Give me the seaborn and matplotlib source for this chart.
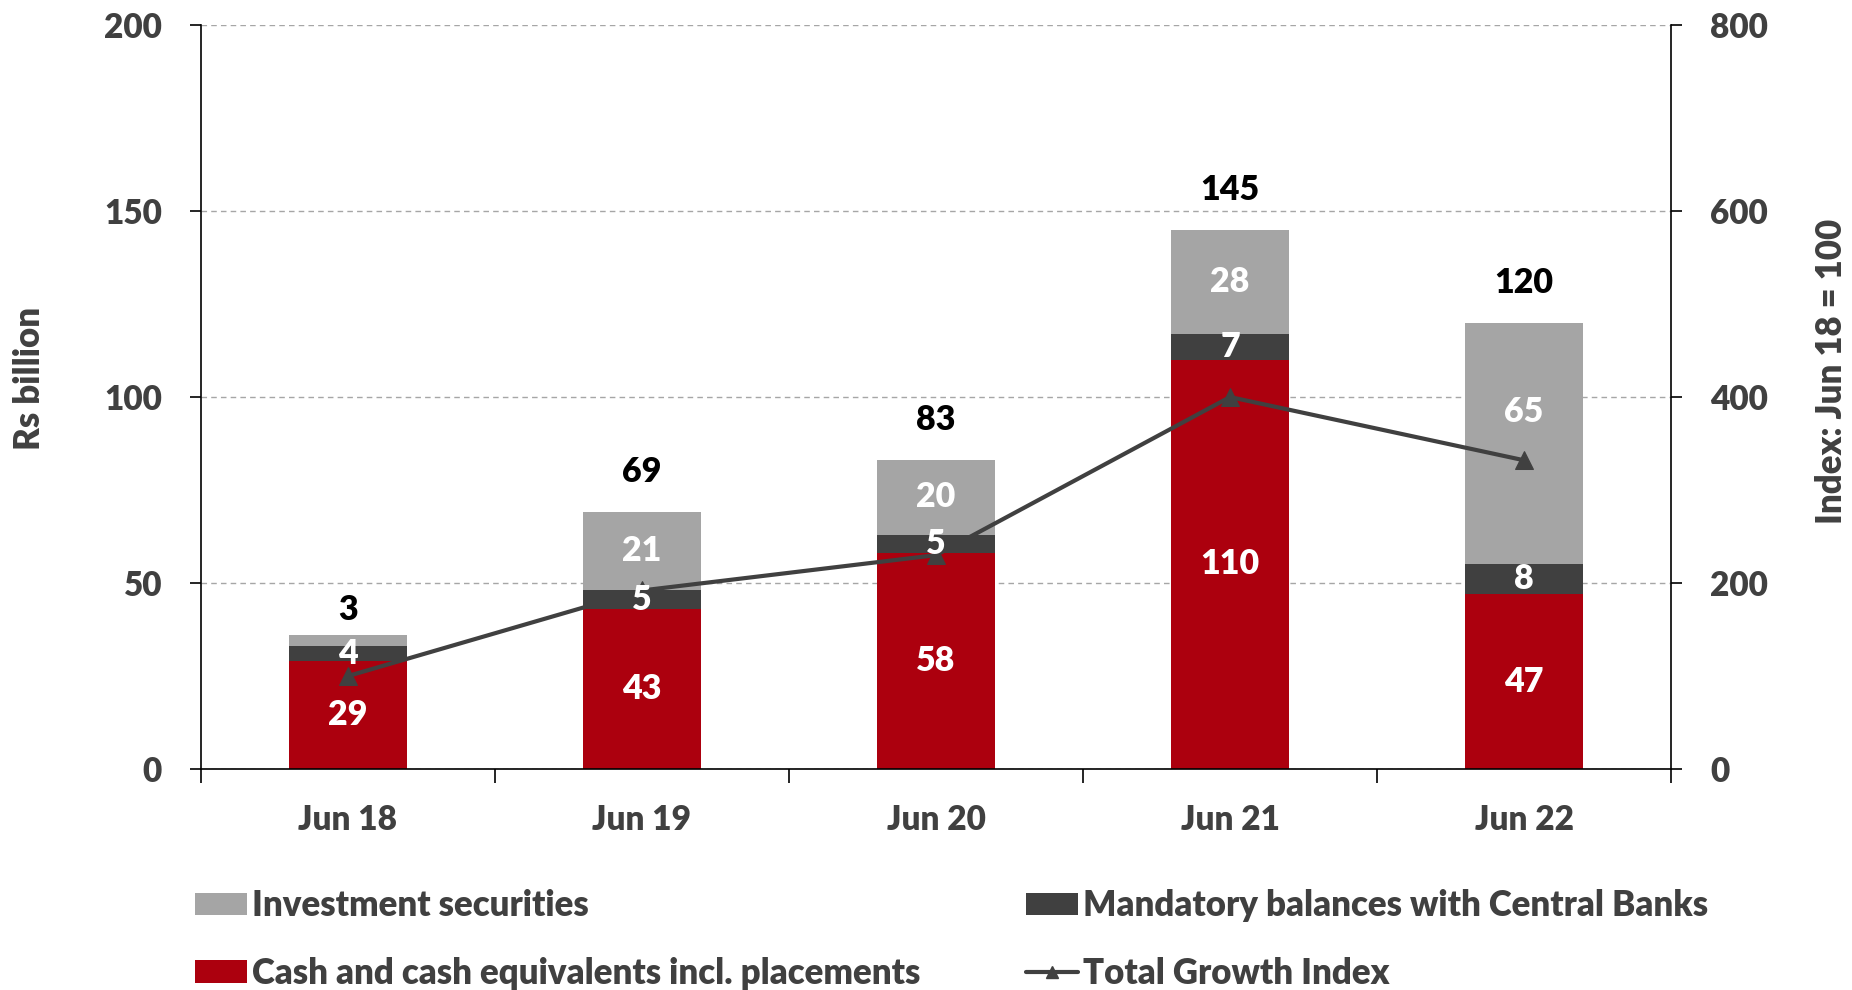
import numpy as np
import pandas as pd
import matplotlib
matplotlib.use("Agg")
import matplotlib.pyplot as plt
import seaborn as sns
from matplotlib.patches import Patch
from matplotlib.lines import Line2D
from matplotlib.ticker import FixedLocator

# ---- data ----
categories = ["Jun 18", "Jun 19", "Jun 20", "Jun 21", "Jun 22"]
cash = [29, 43, 58, 110, 47]
mandatory = [4, 5, 5, 7, 8]
investment = [3, 21, 20, 28, 65]
top_labels = ["3", "69", "83", "145", "120"]
growth_index = [100, 192, 230, 400, 332]

RED = "#AC000E"
DARK = "#404040"
LIGHT = "#A5A5A5"
TXT = "#404040"

sns.set_theme(style="white")
plt.rcParams['font.family'] = ['Lato', 'DejaVu Sans']
plt.rcParams['font.weight'] = 'heavy'
FS_TICK = 24
FS_VAL = 24.5
FS_LEG = 25
W = "heavy"

df = pd.DataFrame({"category": categories, "cash": cash,
                   "mandatory": mandatory, "investment": investment})
df["lvl2"] = df["cash"] + df["mandatory"]
df["lvl3"] = df["lvl2"] + df["investment"]

fig = plt.figure(figsize=(18.52, 9.9), dpi=100)
ax = fig.add_axes([0.1085, 0.2232, 0.7938, 0.7515])

for col, colr in (("lvl3", LIGHT), ("lvl2", DARK), ("cash", RED)):
    sns.barplot(data=df, x="category", y=col, order=categories, color=colr,
                width=0.4, saturation=1, errorbar=None, linewidth=0, ax=ax)

ax.set_xlim(-0.5, 4.5)
ax.set_ylim(0, 200)
ax.set_yticks([0, 50, 100, 150, 200])
ax.set_xlabel("")
ax.set_ylabel("")
ax.set_axisbelow(True)
ax.yaxis.grid(True, color="#A6A6A6", linestyle=(0, (4, 3)), linewidth=1)
ax.xaxis.grid(False)

ax.spines["top"].set_visible(False)
ax.spines["right"].set_visible(False)
for s in ["left", "bottom"]:
    ax.spines[s].set_color("#000000")
    ax.spines[s].set_linewidth(1.2)

ax.tick_params(axis="y", which="major", left=True, length=8, width=1.2,
               color="#000000", direction="out", labelsize=FS_TICK,
               labelcolor=TXT, pad=20)
ax.tick_params(axis="x", which="major", bottom=False, length=0,
               labelsize=FS_TICK, labelcolor=TXT, pad=25)
ax.xaxis.set_minor_locator(FixedLocator([-0.5, 0.5, 1.5, 2.5, 3.5, 4.5]))
ax.tick_params(axis="x", which="minor", bottom=True, length=10, width=1.2,
               color="#000000", direction="out")
for lab in ax.get_xticklabels() + ax.get_yticklabels():
    lab.set_fontweight(W)

# ---- line on secondary axis ----
ax2 = ax.twinx()
sns.lineplot(x=np.arange(len(categories)), y=growth_index, ax=ax2, color=DARK,
             linewidth=3, marker="^", markersize=13, markeredgecolor=DARK,
             markerfacecolor=DARK)
ax2.set_ylim(0, 800)
ax2.set_yticks([0, 200, 400, 600, 800])
ax2.set_ylabel("")
for s in ["top", "left", "bottom"]:
    ax2.spines[s].set_visible(False)
ax2.spines["right"].set_color("#000000")
ax2.spines["right"].set_linewidth(1.2)
ax2.tick_params(axis="y", right=True, length=8, width=1.2, color="#000000",
                direction="out", labelsize=FS_TICK, labelcolor=TXT, pad=20)
for lab in ax2.get_yticklabels():
    lab.set_fontweight(W)
ax2.grid(False)

# ---- value labels ----
scale = 200 / 800  # secondary -> primary units
for i in range(len(categories)):
    c, m, v = cash[i], mandatory[i], investment[i]
    ax2.text(i, c / 2, str(c), transform=ax.transData, ha="center", va="center",
             color="white", fontsize=FS_VAL, fontweight=W)
    ax2.text(i, c + m / 2, str(m), transform=ax.transData, ha="center",
             va="center", color="white", fontsize=FS_VAL, fontweight=W)
    if v >= 10:
        yc = c + m + v / 2
        line_y = growth_index[i] * scale
        if abs(line_y - yc) < 8:   # keep label clear of the index line
            yc = line_y + 13
        ax2.text(i, yc, str(v), transform=ax.transData, ha="center",
                 va="center", color="white", fontsize=FS_VAL, fontweight=W)
        off = 40
    else:
        off = 25
    ax2.annotate(top_labels[i], xy=(i, c + m + v), xycoords=ax.transData,
                 xytext=(0, off), textcoords="offset pixels", ha="center",
                 va="center", color="black", fontsize=FS_VAL, fontweight=W)

# ---- axis titles ----
fig.text(30 / 1852, 1 - 378 / 990, "Rs billion", rotation=90, ha="center",
         va="center", fontsize=FS_LEG, fontweight=W, color=TXT)
fig.text(1831 / 1852, 1 - 371 / 990, "Index: Jun 18 = 100", rotation=90,
         ha="center", va="center", fontsize=FS_LEG, fontweight=W, color=TXT)

# ---- legends ----
h_inv = Patch(facecolor=LIGHT, edgecolor="none")
h_cash = Patch(facecolor=RED, edgecolor="none")
h_man = Patch(facecolor=DARK, edgecolor="none")
h_line = Line2D([], [], color=DARK, linewidth=3, marker="^", markersize=9)

common = dict(frameon=False, fontsize=FS_LEG, labelcolor=TXT, handlelength=1.5,
              handleheight=0.62, handletextpad=0.15, labelspacing=1.0,
              borderpad=0, borderaxespad=0, loc="upper left")
leg1 = fig.legend([h_inv, h_cash], ["Investment securities",
                  "Cash and cash equivalents incl. placements"],
                  bbox_to_anchor=(195 / 1852, 1 - 889 / 990), **common)
leg2 = fig.legend([h_man, h_line], ["Mandatory balances with Central Banks",
                  "Total Growth Index"],
                  bbox_to_anchor=(1026 / 1852, 1 - 889 / 990), **common)
for leg in (leg1, leg2):
    for t in leg.get_texts():
        t.set_fontweight(W)

fig.savefig("out.png", dpi=100)
